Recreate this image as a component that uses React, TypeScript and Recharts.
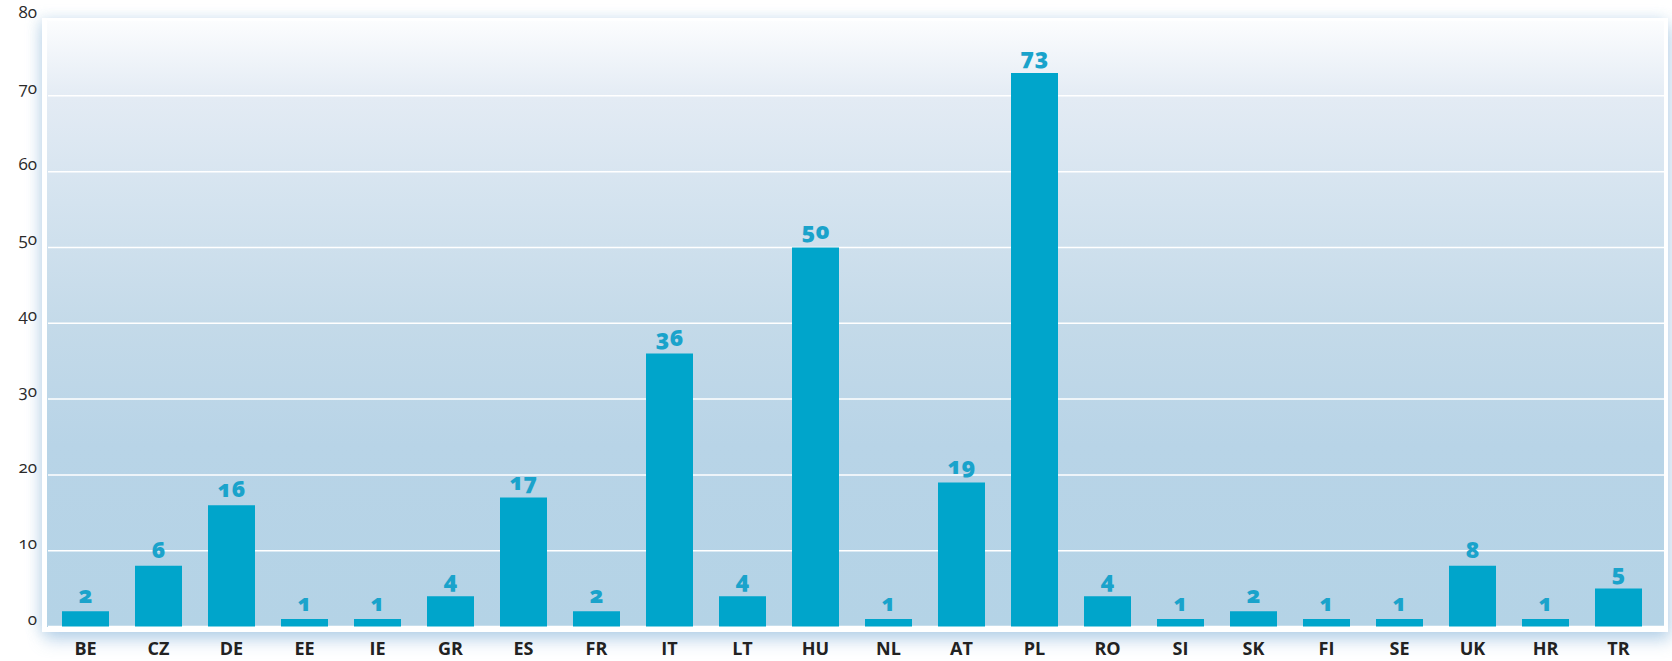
import { BarChart, Bar, XAxis, YAxis, CartesianGrid, LabelList } from 'recharts';

// country codes along the x axis
const countries = ['BE', 'CZ', 'DE', 'EE', 'IE', 'GR', 'ES', 'FR', 'IT', 'LT', 'HU', 'NL', 'AT', 'PL', 'RO', 'SI', 'SK', 'FI', 'SE', 'UK', 'HR', 'TR'];
// bar heights as drawn
const barValues = [2, 8, 16, 1, 1, 4, 17, 2, 36, 4, 50, 1, 19, 73, 4, 1, 2, 1, 1, 8, 1, 5];
// printed labels above bars (CZ is printed as 6 in the source)
const labelValues = [2, 6, 16, 1, 1, 4, 17, 2, 36, 4, 50, 1, 19, 73, 4, 1, 2, 1, 1, 8, 1, 5];
const yTicks = [0, 10, 20, 30, 40, 50, 60, 70, 80];

const data = countries.map((c, i) => ({ country: c, value: barValues[i], label: labelValues[i] }));

const W = 1672;
const H = 661;
const BAR = '#00a5cb';
const FONT = '"Open Sans", "DejaVu Sans", sans-serif';

function YTick(props: any) {
  const { y, payload } = props;
  return (
    <text x={37} y={y - 2} textAnchor="end" fontFamily={FONT} fontSize={17} fill="#2a2a2a" style={{ fontFeatureSettings: '"onum"' }}>
      {payload.value}
    </text>
  );
}

function XTick(props: any) {
  const { x, payload } = props;
  return (
    <text x={x} y={655} textAnchor="middle" fontFamily={FONT} fontSize={18} fontWeight={700} fill="#222">
      {payload.value}
    </text>
  );
}

export default function App() {
  return (
    <div style={{ position: 'absolute', left: 0, top: 0, width: W, height: H, background: '#fff', overflow: 'hidden' }}>
      {/* panel with white frame and soft blue glow */}
      <div
        style={{
          position: 'absolute',
          left: 42,
          top: 18,
          width: 1626,
          height: 614,
          boxSizing: 'border-box',
          borderLeft: '5px solid #fff',
          borderRight: '4px solid #fff',
          borderBottom: '5px solid #fff',
          borderTop: '2px solid #fff',
          background: 'linear-gradient(to bottom, #fcfdfe 0%, #e3ebf4 13%, #d4e3ef 30%, #c4dae9 50%, #b8d4e7 70%, #b4d3e6 100%)',
          boxShadow: '3px 8px 16px rgba(110,165,210,0.45), -4px 0 12px rgba(150,190,220,0.3)',
        }}
      />
      <div style={{ position: 'absolute', left: 0, top: 0 }}>
        <BarChart width={W} height={H} data={data} margin={{ top: 20, right: 8, bottom: 0, left: 0 }} barCategoryGap={0}>
          <CartesianGrid vertical={false} stroke="#ffffff" strokeWidth={1.5} />
          <XAxis
            dataKey="country"
            axisLine={false}
            tickLine={false}
            padding={{ left: 1, right: 9 }}
            height={34.5}
            interval={0}
            tick={<XTick />}
          />
          <YAxis
            domain={[0, 80]}
            ticks={yTicks}
            width={48}
            axisLine={false}
            tickLine={false}
            tick={<YTick />}
          />
          <Bar dataKey="value" fill={BAR} barSize={47} isAnimationActive={false}>
            <LabelList
              dataKey="label"
              position="top"
              offset={8}
              fill="#1aa3cb"
              fontFamily={FONT}
              fontSize={23}
              fontWeight={800}
              style={{ fontFeatureSettings: '"onum"' }}
            />
          </Bar>
        </BarChart>
      </div>
    </div>
  );
}
